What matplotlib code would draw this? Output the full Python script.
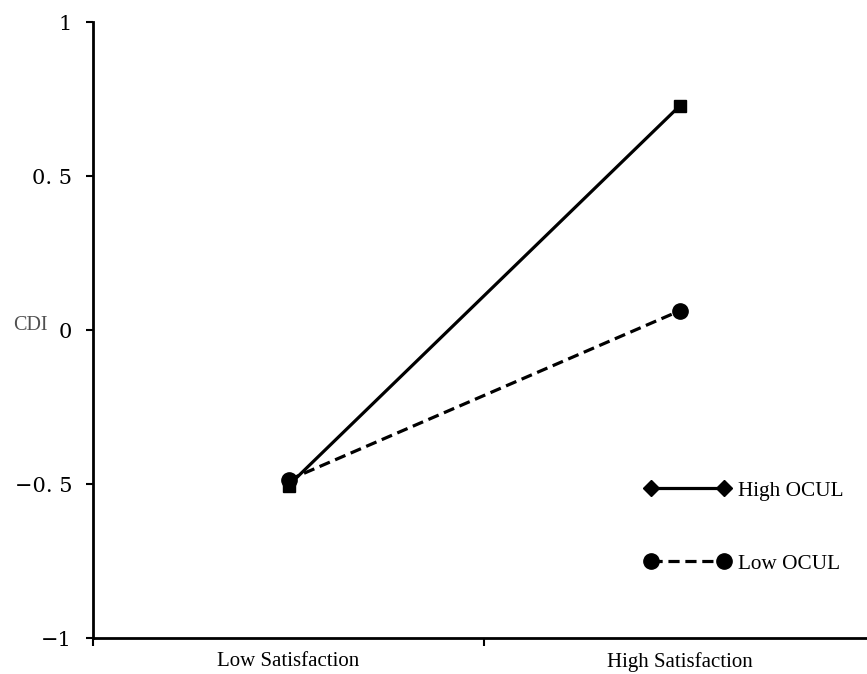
import numpy as np
import matplotlib.pyplot as plt
from matplotlib.lines import Line2D

categories = ['Low Satisfaction', 'High Satisfaction']
high_ocul = [-0.505, 0.727]
low_ocul = [-0.487, 0.062]
y_ticks = [-1, -0.5, 0, 0.5, 1]
y_tick_labels = ['\u22121', '\u22120. 5', '0', '0. 5', '1']


def main():
    plt.rcParams['font.family'] = ['Liberation Serif', 'DejaVu Serif']
    fig = plt.figure(figsize=(8.67, 6.74), dpi=100)
    ax = fig.add_axes([93 / 867, 36 / 674, 782 / 867, 616 / 674])

    x = np.arange(len(categories)) + 0.5
    ax.plot(x, high_ocul, color='black', linewidth=2.3, linestyle='-',
            marker='s', markersize=8, clip_on=False)
    ax.plot(x, low_ocul, color='black', linewidth=2.3, linestyle=(0, (3.5, 1.8)),
            marker='o', markersize=11, clip_on=False)

    ax.set_xlim(0, 2)
    ax.set_ylim(-1, 1)
    ax.set_xticks([0, 1, 2])
    ax.set_xticklabels([])
    ax.set_xticks(x, minor=True)
    ax.set_xticklabels(categories, minor=True, fontsize=15)
    ax.tick_params(axis='x', which='minor', length=0, pad=10)
    ax.tick_params(axis='x', which='major', length=6, width=1.5, direction='out')
    ax.set_yticks(y_ticks)
    ax.set_yticklabels(y_tick_labels, fontsize=15, family='DejaVu Serif')
    ax.tick_params(axis='y', length=5, width=1.5, direction='out', pad=10)

    for side in ['top', 'right']:
        ax.spines[side].set_visible(False)
    for side in ['left', 'bottom']:
        ax.spines[side].set_linewidth(2)

    fig.text(30 / 867, 1 - 325 / 674, 'CDI', fontsize=14.5, color='#505050',
             ha='center', va='center')

    handles = [
        Line2D([], [], color='black', linewidth=2.3, marker='D', markersize=8),
        Line2D([], [], color='black', linewidth=2.3, linestyle=(0, (3.5, 1.8)),
               marker='o', markersize=11),
    ]
    ax.legend(handles, ['High OCUL', 'Low OCUL'], frameon=False, numpoints=2,
              handlelength=4.03, handletextpad=0.35, labelspacing=2.5,
              fontsize=15.3, loc='upper left', borderpad=0, borderaxespad=0,
              bbox_to_anchor=(645 / 867, 1 - 481 / 674),
              bbox_transform=fig.transFigure)

    fig.savefig('out.png', dpi=100)


if __name__ == '__main__':
    main()
